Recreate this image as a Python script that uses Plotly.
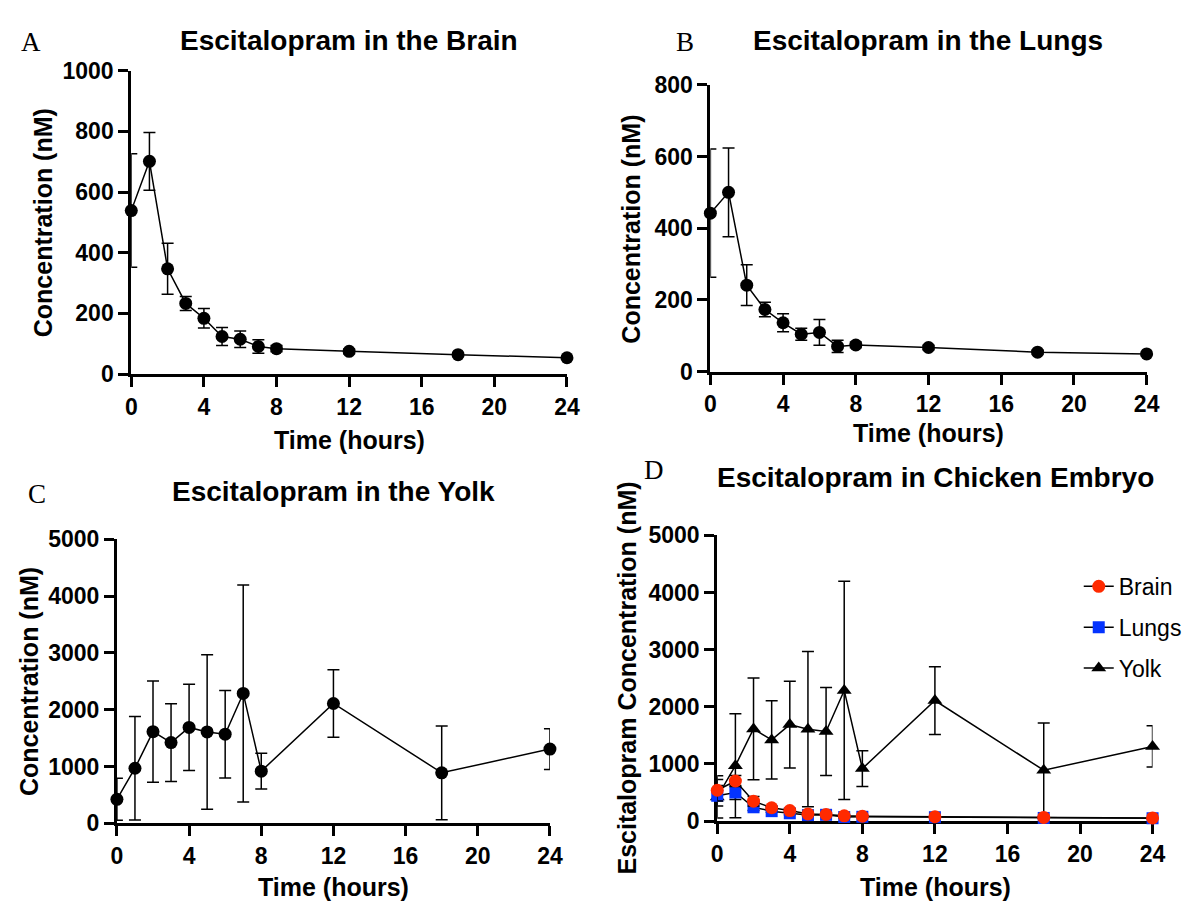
import plotly.graph_objects as go

# ---- data ----
time_h = [0, 1, 2, 3, 4, 5, 6, 7, 8, 12, 18, 24]
brain_mean = [539, 701, 347, 233, 184, 124, 115, 91, 84, 75, 64, 54]
brain_sd = [187, 95, 84, 23, 32, 30, 27, 22, 10, 8, 6, 5]
lungs_mean = [442, 500, 241, 173, 136, 104, 109, 70, 74, 67, 54, 49]
lungs_sd = [179, 124, 57, 20, 25, 17, 36, 17, 8, 6, 5, 5]
yolk_mean = [422, 969, 1613, 1420, 1688, 1608, 1568, 2286, 918, 2109, 889, 1306]
yolk_sd = [370, 910, 890, 685, 760, 1360, 770, 1910, 313, 593, 825, 360]

x_ticks = [0, 4, 8, 12, 16, 20, 24]
panel_titles = ["Escitalopram in the Brain", "Escitalopram in the Lungs",
                "Escitalopram in the Yolk", "Escitalopram in Chicken Embryo"]
panel_letters = ["A", "B", "C", "D"]
y_titles = ["Concentration (nM)", "Concentration (nM)", "Concentration (nM)",
            "Escitalopram Concentration (nM)"]
x_title = "Time (hours)"

W, H = 1200, 914
RED = "#FF2A00"
BLUE = "#0433FF"
SANS = "Liberation Sans, Arial, sans-serif"
SERIF = "Liberation Serif, Times New Roman, serif"

fig = go.Figure()


def err(sd):
    return dict(type="data", array=sd, visible=True, color="black",
                thickness=1.5, width=6)


def add_series(mean, sd, xa, ya, name, color, symbol, size, show, rank=None):
    fig.add_trace(go.Scatter(
        x=time_h, y=mean, mode="lines+markers", name=name,
        xaxis=xa, yaxis=ya, error_y=err(sd), cliponaxis=False,
        line=dict(color="black", width=1.5),
        marker=dict(color=color, symbol=symbol, size=size,
                    line=dict(width=0)),
        showlegend=show, legendgroup=name,
        legendrank=rank if rank else 1000))


add_series(brain_mean, brain_sd, "x", "y", "Brain", "black", "circle", 13, False)
add_series(lungs_mean, lungs_sd, "x2", "y2", "Lungs", "black", "circle", 13, False)
add_series(yolk_mean, yolk_sd, "x3", "y3", "Yolk", "black", "circle", 13, False)
add_series(yolk_mean, yolk_sd, "x4", "y4", "Yolk", "black", "triangle-up", 13, True, 3)
add_series(lungs_mean, lungs_sd, "x4", "y4", "Lungs", BLUE, "square", 12, True, 2)
add_series(brain_mean, brain_sd, "x4", "y4", "Brain", RED, "circle", 13, True, 1)

# plot areas in pixels: (x0, x1, ytop, ybottom)
areas = [(127.3, 570.0, 59.3, 371.7),
         (715.7, 1159.0, 74.0, 369.0),
         (112.7, 552.7, 541.7, 834.0),
         (722.7, 1165.0, 537.7, 831.7)]
y_ranges = [(0, 1000, 200), (0, 800, 200), (0, 5000, 1000), (0, 5000, 1000)]

axis_common = dict(showline=True, linewidth=3, linecolor="black",
                   ticks="outside", ticklen=10, tickwidth=3, tickcolor="black",
                   showgrid=False, zeroline=False, layer="below traces",
                   tickfont=dict(family=SANS, size=23, color="black", weight="bold"))

layout = dict(width=W, height=H, margin=dict(l=0, r=0, t=0, b=0),
              plot_bgcolor="white", paper_bgcolor="white", showlegend=True)

for i, ((x0, x1, yt, yb), (ymin, ymax, dy)) in enumerate(zip(areas, y_ranges)):
    sfx = "" if i == 0 else str(i + 1)
    layout["xaxis" + sfx] = dict(axis_common, domain=[x0 / W, x1 / W],
                                 range=[0, 24], tickvals=x_ticks,
                                 anchor="y" + sfx)
    layout["yaxis" + sfx] = dict(axis_common, domain=[1 - yb / H, 1 - yt / H],
                                 range=[ymin, ymax], dtick=dy, tick0=0,
                                 anchor="x" + sfx)

fig.update_layout(**layout)

annotations = []


def ann(text, px, py, size, family=SANS, bold=True, angle=0):
    annotations.append(dict(
        text=text, x=px / W, y=1 - py / H, xref="paper", yref="paper",
        xanchor="center", yanchor="middle", showarrow=False, textangle=angle,
        font=dict(family=family, size=size, color="black",
                  weight="bold" if bold else "normal")))


title_pos = [(349, 28), (937, 28), (333, 493), (944, 478)]
letter_pos = [(25, 30), (690, 30), (32, 495), (658, 470)]
ytitle_pos = [(37, 216), (635, 222), (24, 688), (630, 685)]
xtitle_pos = [(349, 440), (937, 432), (333, 900), (944, 900)]

for i in range(4):
    ann(panel_titles[i], *title_pos[i], 28)
    ann(panel_letters[i], *letter_pos[i], 27, family=SERIF, bold=False)
    ann(y_titles[i], *ytitle_pos[i], 25, angle=-90)
    ann(x_title, *xtitle_pos[i], 25)

fig.update_layout(
    annotations=annotations,
    legend=dict(x=1090 / W, y=1 - 568 / H, xanchor="left", yanchor="top",
                font=dict(family=SANS, size=23, color="black"),
                bgcolor="rgba(0,0,0,0)", tracegroupgap=8,
                traceorder="grouped"),
)

fig.write_html("out.html")
